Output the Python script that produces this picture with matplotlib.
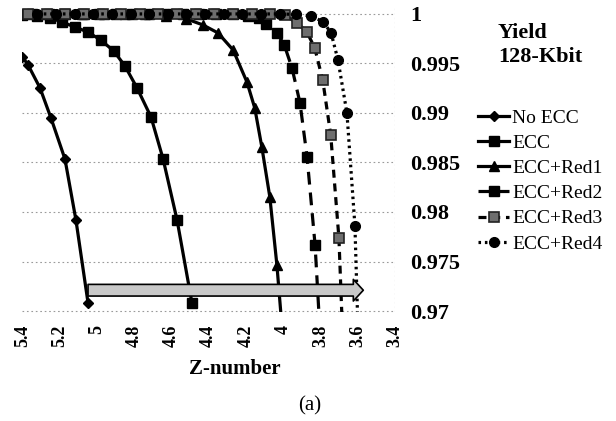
import matplotlib
matplotlib.use("Agg")
import matplotlib.pyplot as plt

plt.rcParams['font.family'] = ['Liberation Serif', 'DejaVu Serif']

# datos (Z-number vs yield)
z_noecc = [5.40, 5.37, 5.306, 5.247, 5.172, 5.113, 5.048]
y_noecc = [0.99566, 0.99485, 0.99253, 0.98949, 0.98535, 0.97919, 0.97081]

z_ecc = [5.40, 5.32, 5.25, 5.19, 5.12, 5.05, 4.98, 4.91, 4.85, 4.785, 4.71, 4.645, 4.57, 4.49]
y_ecc = [0.9999, 0.9998, 0.9996, 0.9992, 0.99869, 0.99818, 0.99737, 0.99626, 0.99475,
         0.99253, 0.9896, 0.98535, 0.97919, 0.97081]

z_red1 = [5.40, 5.29, 5.18, 5.07, 4.96, 4.85, 4.74, 4.63, 4.52, 4.431, 4.35, 4.269,
          4.195, 4.153, 4.115, 4.072, 4.034, 4.005]
y_red1 = [1.0, 1.0, 1.0, 1.0, 0.99999, 0.99998, 0.99995, 0.9998, 0.9995, 0.99889,
          0.99808, 0.99636, 0.99313, 0.99051, 0.98657, 0.98152, 0.97465, 0.9680]

z_red2 = [5.35, 5.26, 5.17, 5.08, 4.99, 4.90, 4.81, 4.72, 4.63, 4.54, 4.45, 4.36,
          4.27, 4.19, 4.13, 4.09, 4.035, 3.995, 3.953, 3.910, 3.872, 3.829, 3.800]
y_red2 = [1.0, 1.0, 1.0, 1.0, 1.0, 1.0, 1.0, 1.0, 1.0, 1.0, 1.0, 0.99999,
          0.99995, 0.9998, 0.9996, 0.9990, 0.9981, 0.9969, 0.99455, 0.99101,
          0.98556, 0.97667, 0.9670]

z_red3 = [5.37, 5.27, 5.17, 5.07, 4.97, 4.87, 4.77, 4.67, 4.57, 4.47, 4.37, 4.27,
          4.17, 4.07, 3.99, 3.926, 3.873, 3.831, 3.788, 3.745, 3.701, 3.680]
y_red3 = [1.0, 1.0, 1.0, 1.0, 1.0, 1.0, 1.0, 1.0, 1.0, 1.0, 1.0, 1.0,
          1.0, 0.99998, 0.99985, 0.9991, 0.99818, 0.99657, 0.99333, 0.98778,
          0.97737, 0.9670]

z_red4 = [5.32, 5.22, 5.12, 5.02, 4.92, 4.82, 4.72, 4.62, 4.52, 4.42, 4.32, 4.22,
          4.12, 4.02, 3.93, 3.85, 3.785, 3.743, 3.706, 3.658, 3.615, 3.597]
y_red4 = [1.0, 1.0, 1.0, 1.0, 1.0, 1.0, 1.0, 1.0, 1.0, 1.0, 1.0, 1.0,
          1.0, 1.0, 0.99995, 0.9998, 0.9992, 0.99808, 0.99535, 0.990, 0.97859, 0.9670]

etiquetas = ["No ECC", "ECC", "ECC+Red1", "ECC+Red2", "ECC+Red3", "ECC+Red4"]
xticks = [5.4, 5.2, 5.0, 4.8, 4.6, 4.4, 4.2, 4.0, 3.8, 3.6, 3.4]
xtick_labels = ["5.4", "5.2", "5", "4.8", "4.6", "4.4", "4.2", "4", "3.8", "3.6", "3.4"]
yticks = [0.97, 0.975, 0.98, 0.985, 0.99, 0.995, 1.0]
ytick_labels = ["0.97", "0.975", "0.98", "0.985", "0.99", "0.995", "1"]

# flecha: desde el ultimo punto de No ECC hasta pasar ECC+Red4
flecha_y = 0.9721
flecha_x0 = z_noecc[-1]
flecha_x1 = 3.57

fig = plt.figure(figsize=(6.16, 4.21), dpi=100)
ax = fig.add_axes([0.0365, 0.2589, 0.6047, 0.7268])

for yv in yticks:
    ax.axhline(yv, color="#9a9a9a", lw=0.8, ls=(0, (1.5, 2.5)), zorder=0, clip_on=False)
ax.axvline(3.4, color="#9a9a9a", lw=0.8, ls=(0, (1.5, 2.5)), zorder=0)

lw = 2.3
ax.plot(z_noecc, y_noecc, color="black", lw=lw, marker="D", ms=5.5,
        label=etiquetas[0])
ax.plot(z_ecc, y_ecc, color="black", lw=lw, marker="s", ms=7.5,
        label=etiquetas[1])
ax.plot(z_red1, y_red1, color="black", lw=lw, marker="^", ms=6.5,
        label=etiquetas[2])
ax.plot(z_red2, y_red2, color="black", lw=lw, ls=(0, (4, 2.5)), marker="s", ms=7.5,
        label=etiquetas[3])
ax.plot(z_red3, y_red3, color="black", lw=lw, ls=(0, (2.5, 1.8)), marker="s", ms=7,
        mfc="#6e6e6e", mec="#222222", mew=1.2, label=etiquetas[4])
ax.plot(z_red4, y_red4, color="black", lw=lw, ls=(0, (0.8, 1.2)), marker="o", ms=7,
        label=etiquetas[5])

ax.annotate("", xy=(flecha_x1, flecha_y), xytext=(flecha_x0, flecha_y),
            arrowprops=dict(arrowstyle="simple,head_length=0.6,head_width=1.3,tail_width=0.7",
                            mutation_scale=12, fc="#c9c9c9", ec="black", lw=1.2,
                            shrinkA=0, shrinkB=0),
            zorder=5)

ax.set_xlim(5.4, 3.4)
ax.set_ylim(0.9699, 1.0008)
ax.set_xticks(xticks)
ax.set_xticklabels(xtick_labels, rotation=90, fontsize=13, fontweight="bold")
ax.set_yticks(yticks)
ax.set_yticklabels(ytick_labels, fontsize=16, fontweight="bold")
ax.yaxis.tick_right()
ax.tick_params(axis="both", length=0)
ax.tick_params(axis="y", pad=11)
ax.tick_params(axis="x", pad=9)
for s in ax.spines.values():
    s.set_visible(False)

ax.set_xlabel("Z-number", fontsize=15, fontweight="bold", labelpad=9)
ax.xaxis.label.set_x((235 - 22.5) / 372.5)

fig.text(498 / 616, 1 - 45 / 421, "Yield\n128-Kbit", fontsize=16, fontweight="bold",
         va="center", ha="left", linespacing=1.25)

fig.legend(loc="upper left", bbox_to_anchor=(478 / 616, 1 - 109 / 421), frameon=False,
           fontsize=14, handlelength=1.6, handletextpad=0.15, labelspacing=0.39,
           borderaxespad=0, borderpad=0)

fig.text(310 / 616, 1 - 406 / 421, "(a)", fontsize=15, ha="center", va="center")

fig.savefig("out.png", dpi=100)
